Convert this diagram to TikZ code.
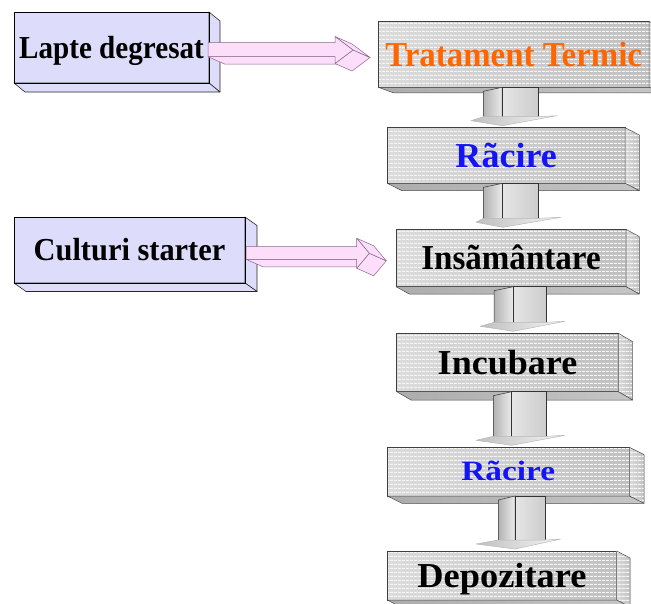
\documentclass[tikz,border=0pt]{standalone}
\usepackage{fontspec}
\setmainfont{Liberation Serif}
\usetikzlibrary{calc,patterns.meta}
\definecolor{lav}{RGB}{221,221,251}
\definecolor{pinkf}{RGB}{252,222,250}
\definecolor{pinkd}{RGB}{140,100,140}
\definecolor{orangeT}{RGB}{255,102,0}
\definecolor{blueT}{RGB}{20,20,245}
\tikzset{
 bluebox/.style={draw=black, line width=0.8pt, fill=lav, inner sep=0pt, outer sep=0pt,
   font=\bfseries\fontsize{32}{32}\selectfont, text height=21pt, text depth=0pt},
 blueface/.style={fill=lav, draw=black!85, line width=0.6pt, line join=round},
 stripes/.style={pattern={Lines[angle=0,distance=4pt,line width=1.5pt]}, pattern color=white!92!gray},
 graybox/.style={draw=black!75, line width=0.7pt, inner sep=0pt, outer sep=0pt,
   preaction={left color=gray!28, right color=gray!50}, stripes,
   font=\bfseries\fontsize{35}{35}\selectfont, text height=23pt, text depth=0pt},
 grayside/.style={preaction={left color=gray!30, right color=gray!48}, stripes, draw=black!70, line width=0.5pt, line join=round},
 graybottom/.style={left color=gray!65, right color=gray!45, draw=black!70, line width=0.5pt, line join=round},
 shaftside/.style={left color=gray!60, right color=gray!15, draw=gray!40!black, line width=0.5pt},
 shaftfront/.style={left color=gray!20, right color=gray!40, draw=gray!40!black, line width=0.5pt},
 headface/.style={left color=gray!50, right color=gray!8, draw=gray!55, line width=0.5pt, line join=round},
 pinkface/.style={fill=pinkf, draw=pinkd, line width=0.5pt, line join=round},
}
\newcommand\bluefaces[3]{%
 \draw[blueface] (#1.north east) -- ++(#2,#3) -- ($(#1.south east)+(#2,#3)$) -- (#1.south east) -- cycle;
 \draw[blueface] (#1.south west) -- (#1.south east) -- ($(#1.south east)+(#2,#3)$) -- ($(#1.south west)+(#2,#3)$) -- cycle;
 \draw[black, line width=0.8pt] (#1.south west) rectangle (#1.north east);
}
\newcommand\grayfaces[3]{%
 \draw[grayside] (#1.north east) -- ++(#2,#3) -- ($(#1.south east)+(#2,#3)$) -- (#1.south east) -- cycle;
 \draw[graybottom] (#1.south west) -- (#1.south east) -- ($(#1.south east)+(#2,#3)$) -- ($(#1.south west)+(#2,#3)$) -- cycle;
}
% from, to, a, b, c, left corner x, right corner x
\newcommand\grayarrow[7]{%
 \path[shaftside] let \p1=(#1.south), \p2=(#2.north) in
   (#3pt,\y1-4pt) -- (#4pt,\y1) -- (#4pt,\y2+10pt) -- (#3pt,\y2+10pt) -- cycle;
 \path[shaftfront] let \p1=(#1.south), \p2=(#2.north) in
   (#4pt,\y1) rectangle (#5pt,\y2+10pt);
 \path[headface] let \p1=(#1.south), \p2=(#2.north) in
   (#6pt,\y2+7pt) -- (#3pt,\y2+11pt) -- (#5pt,\y2+11pt) -- (#7pt,\y2+12pt) -- (#4pt,\y2+2pt) -- cycle;
}
% start, tip, half shaft, half head, head length
\newcommand\pinkarrow[5]{%
 \path[pinkface] let \p1=(#1), \p2=(#2) in
   (\x1,\y1-#3pt) -- (\x2-#5pt,\y1-#3pt) -- (\x2-#5pt+17pt,\y1-#3pt-7.5pt) -- (\x1+17pt,\y1-#3pt-7.5pt) -- cycle;
 \path[pinkface] let \p1=(#1), \p2=(#2) in
   (\x2,\y2) -- (\x2-#5pt,\y2-#4pt) -- (\x2-#5pt+17pt,\y2-#4pt-7.5pt) -- (\x2+17pt,\y2-7.5pt) -- cycle;
 \path[pinkface] let \p1=(#1), \p2=(#2) in
   (\x2-#5pt,\y2+#4pt) -- (\x2,\y2) -- (\x2+17pt,\y2-7.5pt) -- (\x2-#5pt+17pt,\y2+#4pt-7.5pt) -- cycle;
 \path[pinkface] let \p1=(#1), \p2=(#2) in
   (\x1,\y1+#3pt) -- (\x2-#5pt,\y1+#3pt) -- (\x2-#5pt,\y2+#4pt) -- (\x2,\y2) -- (\x2-#5pt,\y2-#4pt) -- (\x2-#5pt,\y1-#3pt) -- (\x1,\y1-#3pt) -- cycle;
}
\begin{document}
\begin{tikzpicture}[x=1pt,y=-1pt]
\useasboundingbox (0,0) rectangle (651,603);
% left input boxes
\node[bluebox, minimum width=195pt, minimum height=71pt] (lapte) at (111.5,47.5) {\scalebox{0.91}[1]{Lapte degresat}};
\node[bluebox, minimum width=231pt, minimum height=66pt] (cult) at (129.5,250) {\scalebox{0.95}[1]{Culturi starter}};
\bluefaces{lapte}{11}{9}
\bluefaces{cult}{12}{8.5}
% process column
\node[graybox, minimum width=270.7pt, minimum height=65.6pt, text=orangeT] (trat) at (513.7,54.5) {\scalebox{0.94}[1]{Tratament Termic}};
\node[graybox, minimum width=237.7pt, minimum height=55.6pt, text=blueT] (rac1) at (506.2,155.5) {\scalebox{1.03}[1]{Rãcire}};
\node[graybox, minimum width=230pt, minimum height=57.4pt] (insam) at (511,258) {\scalebox{0.945}[1]{Insãmântare}};
\node[graybox, minimum width=221.6pt, minimum height=58.4pt] (incub) at (507.5,362.5) {\scalebox{1.03}[1]{Incubare}};
\node[graybox, minimum width=242pt, minimum height=48.7pt, text=blueT, font=\bfseries\fontsize{28}{28}\selectfont, text height=18.5pt] (rac2) at (508.3,471.65) {\scalebox{1.19}[1]{Rãcire}};
\node[graybox, minimum width=229.4pt, minimum height=49pt] (depo) at (502,575.5) {\scalebox{1.04}[1]{Depozitare}};
\grayfaces{trat}{15}{5.5}
\grayfaces{rac1}{14.3}{7.3}
\grayfaces{insam}{13.3}{7.3}
\grayfaces{incub}{14.3}{8.3}
\grayfaces{rac2}{14.7}{7.3}
\grayfaces{depo}{13.3}{7}
% down arrows
\grayarrow{trat}{rac1}{483.3}{502.2}{538.3}{471}{557}
\grayarrow{rac1}{insam}{483.3}{502.7}{538.3}{476}{561}
\grayarrow{insam}{incub}{494}{513.3}{546.7}{480}{565}
\grayarrow{incub}{rac2}{493.3}{511.7}{546.7}{476}{565}
\grayarrow{rac2}{depo}{498.3}{515}{545}{476}{561}
% input arrows
\coordinate (s1) at ($(lapte.east)+(-1,2.2)$);
\coordinate (t1) at ($(trat.west)+(-25.3,-4.5)$);
\pinkarrow{s1}{t1}{7}{13.5}{18}
\coordinate (s2) at ($(cult.east)+(1,3)$);
\coordinate (t2) at ($(insam.west)+(-26.7,-4.7)$);
\pinkarrow{s2}{t2}{6.3}{15}{12.6}
\end{tikzpicture}
\end{document}
